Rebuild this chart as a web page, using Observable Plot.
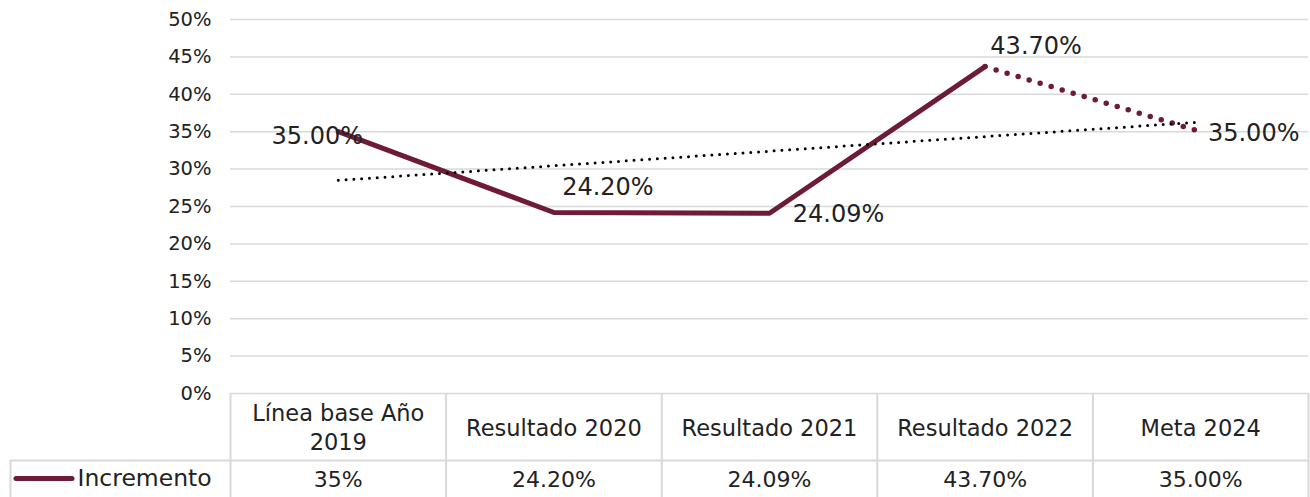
<!DOCTYPE html>
<html>
<head>
<meta charset="utf-8">
<script src="https://cdn.jsdelivr.net/npm/d3@7"></script>
<script src="https://cdn.jsdelivr.net/npm/@observablehq/plot@0.6"></script>
<style>
  html, body { margin: 0; padding: 0; background: #fff; }
</style>
</head>
<body>
<div id="chart"></div>
<script>
// ---- data ----
const categories = ["Línea base Año\n2019", "Resultado 2020", "Resultado 2021", "Resultado 2022", "Meta 2024"];
const values = [0.35, 0.242, 0.2409, 0.437, 0.35];
const pointLabels = ["35.00%", "24.20%", "24.09%", "43.70%", "35.00%"];
const tableLabels = ["35%", "24.20%", "24.09%", "43.70%", "35.00%"];
const yTicks = [0, 0.05, 0.10, 0.15, 0.20, 0.25, 0.30, 0.35, 0.40, 0.45, 0.50];
const seriesName = "Incremento";

// ---- build ----
const rows = categories.map((c, i) => ({i, c, v: values[i], label: pointLabels[i], t: tableLabels[i]}));
const maroon = "#6e1b35";
const grid = "#d9d9d9";
const ink = "#222222";
const FONT = "DejaVu Sans";

const bounds = categories.map((_, i) => i - 0.5).concat([categories.length - 0.5]);
const labelNudge = [[-21, 5], [54, -25], [69, 1], [51, -20], [53, 2]];

const labelMarks = rows.map((r, k) =>
  Plot.text([r], {x: "i", y: "v", text: "label", dx: labelNudge[k][0], dy: labelNudge[k][1],
    fontSize: 24, fill: ink})
);

const chart = Plot.plot({
  width: 1310,
  height: 497,
  marginLeft: 230,
  marginRight: 2,
  marginTop: 19,
  marginBottom: 104,
  style: {fontFamily: FONT, fontSize: "19.5px", color: ink, background: "white"},
  x: {type: "linear", domain: [-0.5, categories.length - 0.5], axis: null},
  y: {domain: [0, 0.5], ticks: yTicks, tickFormat: d3.format(".0%"), tickSize: 0, tickPadding: 19, label: null},
  marks: [
    // gridlines (0% doubles as the table's top border)
    Plot.ruleY(yTicks, {stroke: grid, strokeWidth: 1.5}),
    // data table: header-row verticals
    Plot.ruleX(bounds, {x: d => d, y1: () => 0, y2: () => 0, insetBottom: -67, stroke: grid, strokeWidth: 2}),
    // data table: value-row verticals
    Plot.ruleX(bounds, {x: d => d, y1: () => 0, y2: () => 0, insetTop: 67, insetBottom: -110, stroke: grid, strokeWidth: 2}),
    Plot.ruleX([-0.5], {x: d => d, y1: () => 0, y2: () => 0, insetTop: 67, insetBottom: -110, dx: -220, stroke: grid, strokeWidth: 2}),
    // row separator
    Plot.ruleY([0], {x1: -0.5, x2: categories.length - 0.5, dy: 67, insetLeft: -220, stroke: grid, strokeWidth: 2}),
    // header text
    Plot.text(rows, {x: "i", y: () => 0, text: "c", dy: 33, fontSize: 22.5, lineHeight: 1.25, fill: ink}),
    // value row text
    Plot.text(rows, {x: "i", y: () => 0, text: "t", dy: 86, fontSize: 22, fill: ink}),
    // legend key in table
    Plot.ruleY([0], {x1: -0.5, x2: -0.5, dy: 85, insetLeft: -214, insetRight: 158, stroke: maroon, strokeWidth: 5, strokeLinecap: "round"}),
    Plot.text([seriesName], {x: () => -0.5, y: () => 0, text: d => d, dx: -153, dy: 85, textAnchor: "start", fontSize: 23.5, fill: ink}),
    // series line: results solid, goal dotted
    Plot.line(rows.slice(0, 4), {x: "i", y: "v", stroke: maroon, strokeWidth: 5, strokeLinejoin: "miter"}),
    Plot.line(rows.slice(3), {x: "i", y: "v", stroke: maroon, strokeWidth: 5.5, strokeDasharray: "0 11.5", strokeLinecap: "round"}),
    // linear trend line
    Plot.linearRegressionY(rows, {x: "i", y: "v", ci: 0, stroke: "black", strokeWidth: 3, strokeDasharray: "0 7.8", strokeLinecap: "round"}),
    ...labelMarks
  ]
});
document.getElementById("chart").appendChild(chart);
</script>
</body>
</html>
